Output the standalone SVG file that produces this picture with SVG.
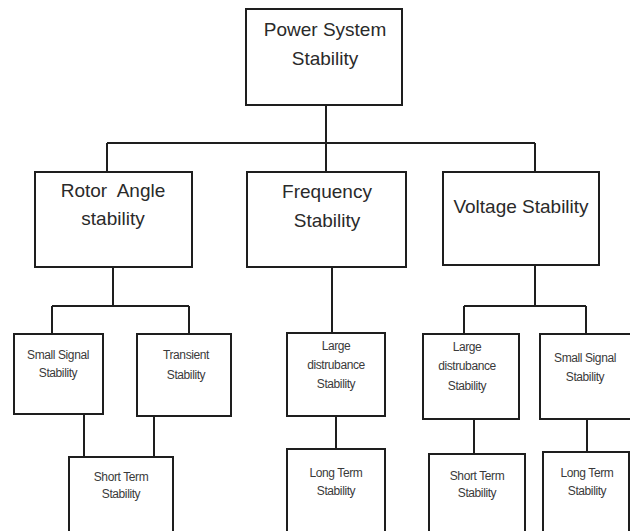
<svg xmlns="http://www.w3.org/2000/svg" width="630" height="531" viewBox="0 0 630 531">
<style>
.box{fill:#fff;stroke:#1e1e1e;stroke-width:2}
.ln{fill:none;stroke:#1e1e1e;stroke-width:2}
.big{font-family:"Liberation Sans",Arial,sans-serif;font-size:19px;fill:#2a2a2a;text-anchor:middle}
.sm{font-family:"Liberation Sans",Arial,sans-serif;font-size:12px;fill:#3a3a3a;text-anchor:middle;letter-spacing:-0.4px}
</style>
<rect width="630" height="531" fill="#fff"/>
<g id="connectors">
<path class="ln" d="M326 105V143M107 143H535M107 143V172M326 143V172M535 143V172"/>
<path class="ln" d="M113 267V306M52 306H189M52 306V334M189 306V334"/>
<path class="ln" d="M84 414V457M154 416V457"/>
<path class="ln" d="M332 267V333M336 416V449"/>
<path class="ln" d="M535 265V306M464 306H586M464 306V334M586 306V334"/>
<path class="ln" d="M474 419V454M587 419V452"/>
</g>
<g id="n-power"><rect class="box" x="246" y="9" width="156" height="96"/><text class="big" x="325" y="36">Power System</text><text class="big" x="325" y="65">Stability</text></g>
<g id="n-rotor"><rect class="box" x="35" y="172" width="157" height="95"/><text class="big" x="113" y="197" xml:space="preserve">Rotor  Angle</text><text class="big" x="113" y="225">stability</text></g>
<g id="n-freq"><rect class="box" x="247" y="172" width="159" height="95"/><text class="big" x="327" y="198">Frequency</text><text class="big" x="327" y="227">Stability</text></g>
<g id="n-volt"><rect class="box" x="443" y="172" width="156" height="93"/><text class="big" x="521" y="213">Voltage Stability</text></g>
<g id="n-ss1"><rect class="box" x="14" y="334" width="89" height="80"/><text class="sm" x="58" y="359">Small Signal</text><text class="sm" x="58" y="377">Stability</text></g>
<g id="n-trans"><rect class="box" x="137" y="334" width="94" height="82"/><text class="sm" x="186" y="359">Transient</text><text class="sm" x="186" y="379">Stability</text></g>
<g id="n-st1"><rect class="box" x="69" y="457" width="104" height="90"/><text class="sm" x="121" y="481">Short Term</text><text class="sm" x="121" y="498">Stability</text></g>
<g id="n-ld1"><rect class="box" x="287" y="333" width="98" height="83"/><text class="sm" x="336" y="350">Large</text><text class="sm" x="336" y="369">distrubance</text><text class="sm" x="336" y="388">Stability</text></g>
<g id="n-lt1"><rect class="box" x="287" y="449" width="98" height="95"/><text class="sm" x="336" y="477">Long Term</text><text class="sm" x="336" y="495">Stability</text></g>
<g id="n-ld2"><rect class="box" x="423" y="334" width="96" height="85"/><text class="sm" x="467" y="351">Large</text><text class="sm" x="467" y="370">distrubance</text><text class="sm" x="467" y="390">Stability</text></g>
<g id="n-ss2"><rect class="box" x="540" y="334" width="100" height="85"/><text class="sm" x="585" y="362">Small Signal</text><text class="sm" x="585" y="381">Stability</text></g>
<g id="n-st2"><rect class="box" x="429" y="454" width="96" height="90"/><text class="sm" x="477" y="480">Short Term</text><text class="sm" x="477" y="497">Stability</text></g>
<g id="n-lt2"><rect class="box" x="543" y="452" width="86" height="92"/><text class="sm" x="587" y="477">Long Term</text><text class="sm" x="587" y="495">Stability</text></g>
</svg>
